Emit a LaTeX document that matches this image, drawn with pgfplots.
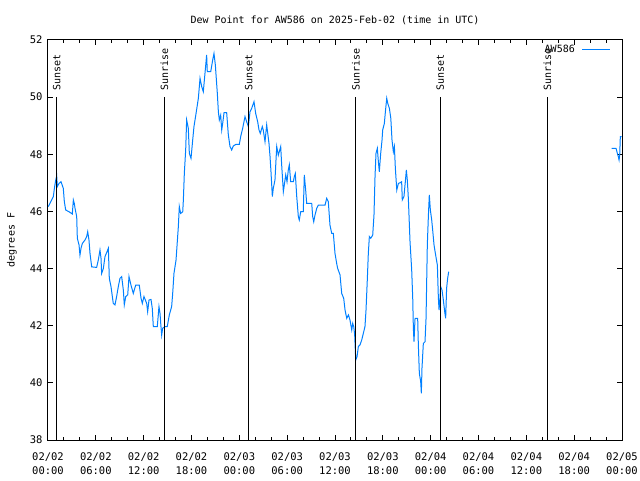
\documentclass[border=0pt]{standalone}
\usepackage{fontspec}
\setmainfont{DejaVu Sans Mono}
\usepackage{pgfplots}
\pgfplotsset{compat=1.18}
\definecolor{dew}{RGB}{0,128,255}
\begin{document}
\begin{tikzpicture}[font=\fontsize{10bp}{12bp}\selectfont]
\begin{axis}[
  name=ax,
  scale only axis, width=574bp, height=400bp,
  xmin=0, xmax=72, ymin=38, ymax=52,
  xtick={0,6,...,72},
  xticklabels={{02/02\\00:00},{02/02\\06:00},{02/02\\12:00},{02/02\\18:00},{02/03\\00:00},{02/03\\06:00},{02/03\\12:00},{02/03\\18:00},{02/04\\00:00},{02/04\\06:00},{02/04\\12:00},{02/04\\18:00},{02/05\\00:00}},
  xticklabel style={align=center, font=\fontsize{10.5bp}{14bp}\selectfont, yshift=-9bp},
  minor x tick num=2,
  ytick={38,40,...,52},
  yticklabel style={xshift=-2bp, font=\fontsize{10.5bp}{12bp}\selectfont},
  tick align=inside,
  major tick length=5bp, minor tick length=3bp,
  axis line style={line width=1bp},
  every tick/.style={black, line width=1bp},
  /pgf/number format/assume math mode=true,
  legend style={draw=none, fill=none, at={(axis description cs:1,1)}, anchor=north east, xshift=-8bp, yshift=-1bp, font=\fontsize{10bp}{12bp}\selectfont},
  legend plot pos=right,
  legend cell align=right,
  legend image code/.code={\path (0bp,0bp); \draw[#1] (5bp,0bp) -- (33bp,0bp);},
  clip=true,
]
\addplot[dew, line width=1bp] coordinates {
(0.04,46.17) (0.46,46.40) (0.67,46.52) (0.80,46.81) (0.96,47.08) (1.09,47.24) (1.17,46.87) (1.38,46.98)
(1.63,47.04) (1.92,46.81) (2.05,46.34) (2.22,46.05) (2.63,45.99) (3.05,45.91) (3.18,46.40) (3.30,46.28)
(3.39,46.11) (3.60,45.82) (3.68,45.06) (3.89,44.83) (4.01,44.47) (4.14,44.71) (4.31,44.88) (4.64,45.00)
(4.85,45.12) (4.98,45.29) (5.14,45.00) (5.27,44.53) (5.48,44.06) (6.10,44.04) (6.31,44.30) (6.52,44.65)
(6.65,44.36) (6.73,43.83) (6.94,44.00) (7.15,44.42) (7.36,44.56) (7.57,44.71) (7.69,43.66) (7.90,43.37)
(8.19,42.78) (8.40,42.73) (8.61,43.02) (8.82,43.37) (9.03,43.66) (9.24,43.72) (9.45,43.25) (9.57,42.73)
(9.75,43.02) (10.00,43.08) (10.16,43.72) (10.41,43.42) (10.70,43.13) (11.00,43.42) (11.45,43.42) (11.67,42.96)
(11.83,42.78) (12.04,43.02) (12.38,42.78) (12.50,42.49) (12.67,42.90) (12.92,42.92) (13.08,42.61) (13.21,41.97)
(13.71,41.97) (13.92,42.67) (14.05,42.43) (14.17,41.97) (14.26,41.67) (14.38,41.91) (14.68,41.97) (14.96,41.97)
(15.22,42.38) (15.51,42.67) (15.64,43.13) (15.80,43.83) (16.06,44.30) (16.35,45.47) (16.47,46.17) (16.64,45.93)
(16.90,45.99) (16.98,46.40) (17.10,47.33) (17.27,48.15) (17.39,49.20) (17.60,48.91) (17.73,48.03) (17.94,47.86)
(18.15,48.50) (18.31,48.97) (18.57,49.43) (18.86,49.96) (19.07,50.66) (19.28,50.37) (19.48,50.19) (19.69,50.83)
(19.90,51.48) (19.98,50.89) (20.41,50.89) (20.66,51.30) (20.82,51.53) (20.99,51.13) (21.24,50.13) (21.37,49.49)
(21.49,49.20) (21.66,49.37) (21.79,48.85) (21.91,49.08) (22.08,49.46) (22.41,49.46) (22.62,48.68) (22.83,48.27)
(23.04,48.15) (23.24,48.29) (23.58,48.35) (24.00,48.35) (24.17,48.62) (24.42,48.91) (24.71,49.32) (24.92,49.14)
(25.13,48.97) (25.34,49.49) (25.55,49.61) (25.84,49.84) (26.05,49.43) (26.30,49.14) (26.47,48.85) (26.63,48.73)
(26.88,48.97) (27.00,48.85) (27.22,48.44) (27.43,49.03) (27.72,48.38) (27.85,47.92) (27.97,47.39) (28.14,46.52)
(28.26,46.81) (28.47,47.10) (28.60,47.80) (28.69,48.27) (28.89,47.97) (29.01,48.09) (29.19,48.27) (29.31,47.63)
(29.52,46.69) (29.64,46.93) (29.82,47.28) (29.98,47.04) (30.14,47.45) (30.27,47.63) (30.44,47.04) (30.77,47.04)
(30.90,47.22) (31.02,47.33) (31.20,46.52) (31.40,45.82) (31.52,45.70) (31.70,45.99) (32.02,45.99) (32.15,47.28)
(32.32,46.75) (32.45,46.28) (33.08,46.28) (33.20,45.82) (33.33,45.64) (33.49,45.87) (33.71,46.11) (33.91,46.22)
(34.75,46.22) (34.96,46.46) (35.16,46.34) (35.37,45.52) (35.59,45.23) (35.79,45.23) (36.00,44.53) (36.21,44.18)
(36.33,44.01) (36.63,43.78) (36.84,43.13) (37.09,42.96) (37.26,42.55) (37.47,42.26) (37.68,42.38) (37.88,42.20)
(38.10,41.85) (38.22,42.08) (38.35,41.97) (38.47,41.67) (38.60,40.80) (38.76,40.91) (38.93,41.27) (39.14,41.33)
(39.35,41.50) (39.55,41.73) (39.76,41.97) (39.89,42.55) (40.06,43.66) (40.18,44.53) (40.31,45.12) (40.48,45.06)
(40.73,45.17) (40.89,45.87) (41.02,47.22) (41.14,48.03) (41.31,48.21) (41.44,47.74) (41.56,47.39) (41.73,48.03)
(41.90,48.50) (41.98,48.85) (42.19,49.08) (42.32,49.49) (42.49,49.96) (42.62,49.78) (42.82,49.61) (43.00,49.26)
(43.15,48.50) (43.32,48.09) (43.45,48.27) (43.57,47.51) (43.75,46.75) (43.95,46.98) (44.15,47.00) (44.36,47.04)
(44.44,46.40) (44.65,46.52) (44.82,47.04) (44.95,47.45) (45.07,47.10) (45.20,46.46) (45.41,44.94) (45.62,43.95)
(45.75,42.96) (45.83,41.91) (45.91,41.44) (46.04,42.26) (46.37,42.26) (46.45,41.38) (46.58,40.33) (46.75,40.04)
(46.83,39.63) (46.91,40.51) (47.08,41.38) (47.29,41.44) (47.42,42.26) (47.58,44.83) (47.71,45.82) (47.83,46.58)
(47.96,46.05) (48.13,45.70) (48.25,45.35) (48.42,44.83) (48.59,44.53) (48.84,44.12) (48.96,43.02) (49.05,42.55)
(49.17,42.96) (49.25,43.37) (49.42,43.25) (49.59,42.90) (49.76,42.49) (49.88,42.26) (50.00,43.31) (50.13,43.66)
(50.26,43.89)
};
\addlegendentry{AW586}
\addplot[dew, line width=1bp, forget plot] coordinates {
(70.71,48.21) (71.25,48.21) (71.42,48.03) (71.54,47.92) (71.63,47.80) (71.71,47.97) (71.79,48.62) (71.95,48.62)
};
\addplot[black, line width=1bp, forget plot] coordinates {(1.09,38) (1.09,50)} node[pos=1, rotate=90, anchor=west, inner xsep=6bp, inner ysep=0pt] {Sunset};
\addplot[black, line width=1bp, forget plot] coordinates {(14.60,38) (14.60,50)} node[pos=1, rotate=90, anchor=west, inner xsep=6bp, inner ysep=0pt] {Sunrise};
\addplot[black, line width=1bp, forget plot] coordinates {(25.17,38) (25.17,50)} node[pos=1, rotate=90, anchor=west, inner xsep=6bp, inner ysep=0pt] {Sunset};
\addplot[black, line width=1bp, forget plot] coordinates {(38.63,38) (38.63,50)} node[pos=1, rotate=90, anchor=west, inner xsep=6bp, inner ysep=0pt] {Sunrise};
\addplot[black, line width=1bp, forget plot] coordinates {(49.20,38) (49.20,50)} node[pos=1, rotate=90, anchor=west, inner xsep=6bp, inner ysep=0pt] {Sunset};
\addplot[black, line width=1bp, forget plot] coordinates {(62.64,38) (62.64,50)} node[pos=1, rotate=90, anchor=west, inner xsep=6bp, inner ysep=0pt] {Sunrise};
\end{axis}
\node at ([yshift=20bp]ax.north) {Dew Point for AW586 on 2025-Feb-02 (time in UTC)};
\node[rotate=90] at ([xshift=-36bp]ax.west) {degrees F};
\pgfresetboundingbox
\path[use as bounding box] ([shift={(-48bp,-40bp)}]ax.south west) rectangle ([shift={(18bp,40bp)}]ax.north east);
\end{tikzpicture}
\end{document}
